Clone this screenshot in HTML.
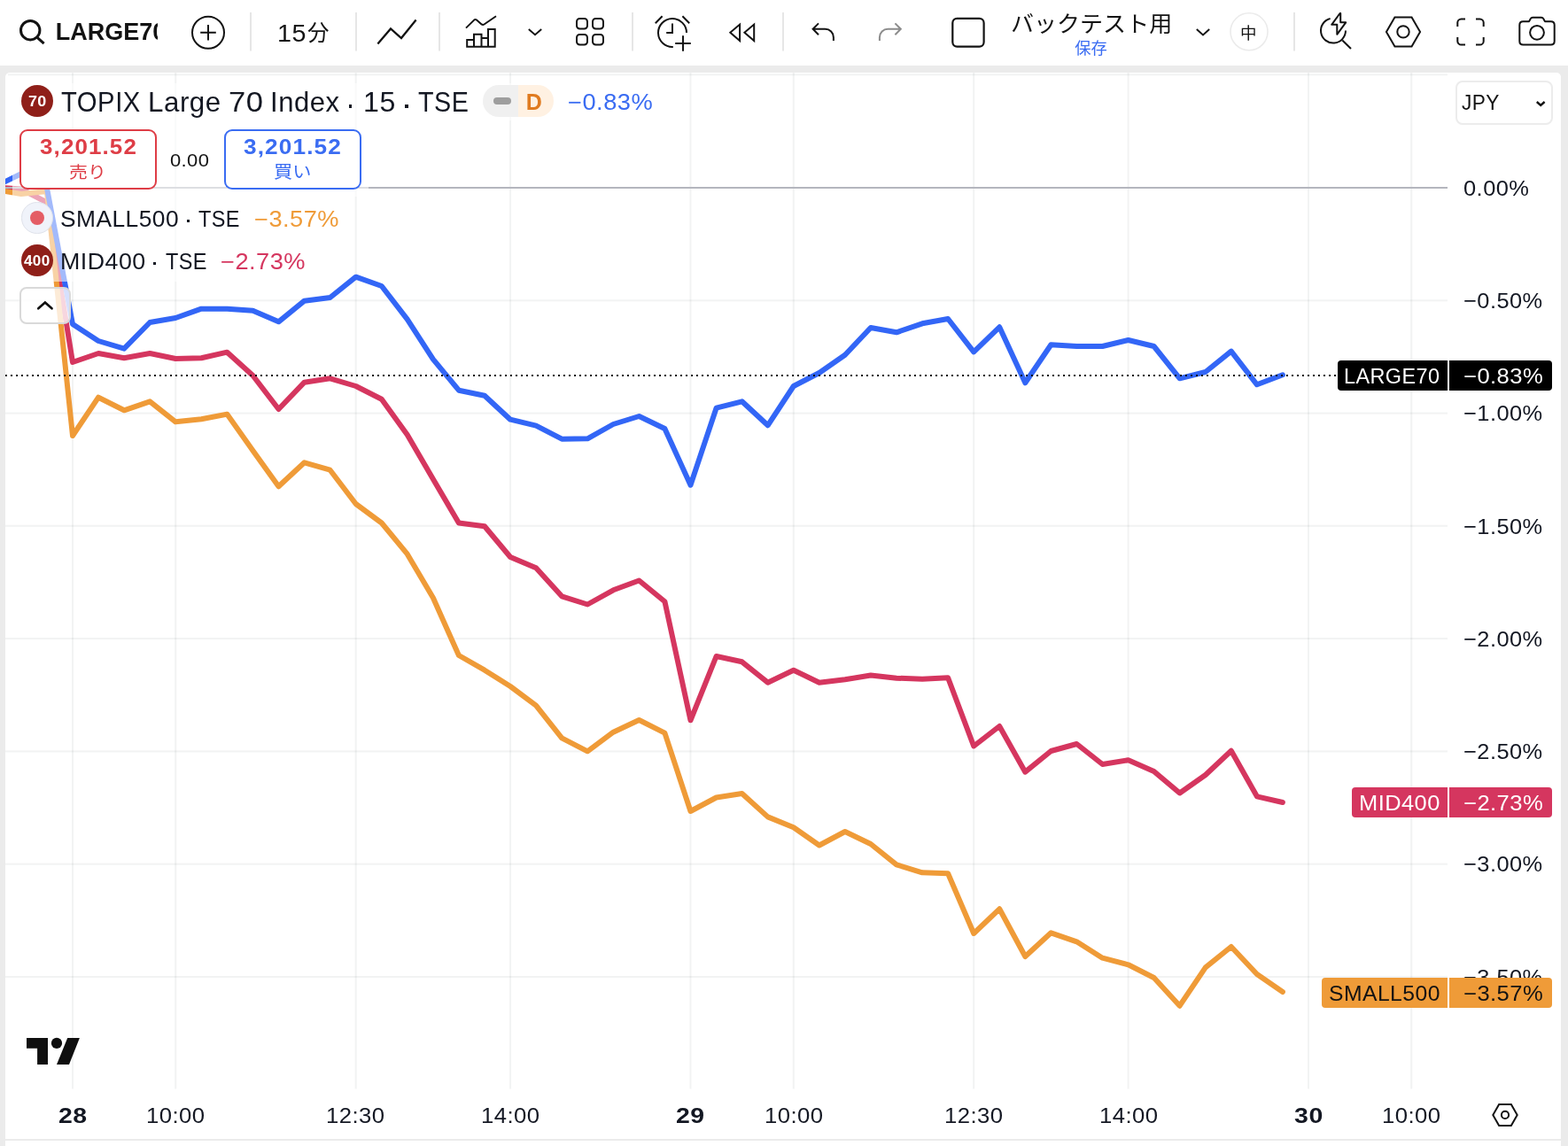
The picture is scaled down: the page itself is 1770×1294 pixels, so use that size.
<!DOCTYPE html>
<html lang="ja"><head><meta charset="utf-8"><title>TOPIX Large 70 Index chart</title>
<style>
html,body{margin:0;padding:0}
body{width:1770px;height:1294px;position:relative;overflow:hidden;background:#fff;font-family:"Liberation Sans",sans-serif}
.a{position:absolute;display:block;box-sizing:border-box}
.t{position:absolute;white-space:nowrap;display:block;transform-origin:0 0}
.j{font-family:"Liberation Sans","Noto Sans CJK JP",sans-serif}
#app{position:absolute;left:0;top:0;width:1770px;height:1294px;overflow:hidden;will-change:transform}
</style></head><body><div id="app">
<div class="a" style="left:0;top:74px;width:1770px;height:8px;background:#ebebeb"></div>
<div class="a" style="left:0;top:74px;width:6px;height:1220px;background:#ebebeb"></div>
<div class="a" style="left:1762px;top:74px;width:8px;height:1220px;background:#ebebeb"></div>
<div class="a" style="left:0;top:78px;width:1770px;height:12px;background:#ebebeb"></div>
<div class="a" style="left:6px;top:82px;width:1756px;height:1212px;background:#fff;border-radius:5px 5px 0 0"></div>
<div class="a" style="left:6px;top:1286px;width:1756px;height:2px;background:#ebebeb"></div>
<svg class="a" style="left:0;top:0" width="1770" height="1294" viewBox="0 0 1770 1294"><defs><clipPath id="cp"><rect x="6" y="82" width="1628" height="1148"/></clipPath></defs><rect x="81.0" y="82" width="2" height="1147.5" fill="rgba(42,46,57,0.06)"/><rect x="197.2" y="82" width="2" height="1147.5" fill="rgba(42,46,57,0.06)"/><rect x="400.7" y="82" width="2" height="1147.5" fill="rgba(42,46,57,0.06)"/><rect x="575.1" y="82" width="2" height="1147.5" fill="rgba(42,46,57,0.06)"/><rect x="778.5" y="82" width="2" height="1147.5" fill="rgba(42,46,57,0.06)"/><rect x="894.8" y="82" width="2" height="1147.5" fill="rgba(42,46,57,0.06)"/><rect x="1098.2" y="82" width="2" height="1147.5" fill="rgba(42,46,57,0.06)"/><rect x="1272.6" y="82" width="2" height="1147.5" fill="rgba(42,46,57,0.06)"/><rect x="1476.0" y="82" width="2" height="1147.5" fill="rgba(42,46,57,0.06)"/><rect x="1592.2" y="82" width="2" height="1147.5" fill="rgba(42,46,57,0.06)"/><rect x="9" y="83.3" width="1625" height="2" fill="rgba(42,46,57,0.06)"/><rect x="6" y="338.3" width="1628" height="2" fill="rgba(42,46,57,0.06)"/><rect x="6" y="465.6" width="1628" height="2" fill="rgba(42,46,57,0.06)"/><rect x="6" y="592.8" width="1628" height="2" fill="rgba(42,46,57,0.06)"/><rect x="6" y="720.1" width="1628" height="2" fill="rgba(42,46,57,0.06)"/><rect x="6" y="847.4" width="1628" height="2" fill="rgba(42,46,57,0.06)"/><rect x="6" y="974.7" width="1628" height="2" fill="rgba(42,46,57,0.06)"/><rect x="6" y="1102.0" width="1628" height="2" fill="rgba(42,46,57,0.06)"/><polyline clip-path="url(#cp)" fill="none" stroke="#d5365f" stroke-width="6" stroke-linejoin="round" stroke-linecap="round" points="-5.2,211.5 23.9,213.5 52.9,228.5 82.0,409.0 111.1,399.0 140.1,404.3 169.2,399.0 198.2,405.0 227.3,404.3 256.4,397.7 285.4,424.0 314.5,462.0 343.6,431.7 372.6,427.3 401.7,436.0 430.8,450.7 459.8,491.0 488.9,541.0 517.9,590.5 547.0,594.3 576.1,629.0 605.1,641.3 634.2,673.3 663.2,682.5 692.3,666.3 721.4,655.5 750.4,679.2 779.5,813.3 808.6,741.0 837.6,747.3 866.7,770.7 895.8,756.7 924.8,770.7 953.9,767.3 982.9,762.5 1012.0,765.7 1041.1,766.7 1070.1,765.3 1099.2,842.5 1128.2,820.0 1157.3,871.7 1186.4,848.0 1215.4,840.0 1244.5,863.0 1273.6,858.3 1302.6,871.0 1331.7,895.5 1360.8,875.0 1389.8,847.8 1418.9,899.3 1447.9,906.0"/><polyline clip-path="url(#cp)" fill="none" stroke="#ef9b38" stroke-width="6" stroke-linejoin="round" stroke-linecap="round" points="-5.2,214.0 23.9,219.0 52.9,216.0 82.0,492.0 111.1,448.7 140.1,463.3 169.2,453.3 198.2,476.3 227.3,473.3 256.4,467.7 285.4,508.7 314.5,549.3 343.6,522.3 372.6,530.7 401.7,569.0 430.8,590.5 459.8,625.7 488.9,675.0 517.9,740.0 547.0,756.7 576.1,775.0 605.1,796.7 634.2,833.3 663.2,848.3 692.3,826.7 721.4,813.0 750.4,827.6 779.5,916.0 808.6,900.5 837.6,896.0 866.7,922.4 895.8,934.2 924.8,954.5 953.9,939.0 982.9,953.0 1012.0,976.3 1041.1,985.3 1070.1,986.2 1099.2,1054.0 1128.2,1026.3 1157.3,1080.0 1186.4,1053.3 1215.4,1063.3 1244.5,1081.7 1273.6,1089.3 1302.6,1104.0 1331.7,1135.7 1360.8,1092.3 1389.8,1069.0 1418.9,1100.0 1447.9,1120.0"/><polyline clip-path="url(#cp)" fill="none" stroke="#3366f6" stroke-width="6" stroke-linejoin="round" stroke-linecap="round" points="-5.2,210.5 23.9,196.3 52.9,212.0 82.0,366.0 111.1,385.0 140.1,393.7 169.2,364.0 198.2,359.0 227.3,348.7 256.4,348.7 285.4,350.7 314.5,363.3 343.6,339.7 372.6,336.0 401.7,312.7 430.8,323.0 459.8,360.7 488.9,405.7 517.9,440.7 547.0,446.7 576.1,473.7 605.1,480.7 634.2,495.7 663.2,495.3 692.3,479.0 721.4,470.0 750.4,484.0 779.5,547.7 808.6,460.7 837.6,453.3 866.7,480.3 895.8,436.0 924.8,421.0 953.9,400.7 982.9,370.0 1012.0,375.3 1041.1,365.3 1070.1,360.0 1099.2,397.3 1128.2,369.3 1157.3,432.3 1186.4,389.3 1215.4,391.0 1244.5,391.0 1273.6,384.0 1302.6,391.0 1331.7,427.3 1360.8,420.0 1389.8,396.7 1418.9,434.3 1447.9,423.3"/><rect x="6" y="211" width="1628" height="2" fill="#b4b6be"/><line x1="6" y1="424" x2="1510" y2="424" stroke="#0a0a0a" stroke-width="2" stroke-dasharray="2 4"/></svg>
<div class="a" style="left:14px;top:94px;width:730px;height:42px;background:rgba(255,255,255,0.55)"></div>
<div class="a" style="left:14px;top:136px;width:402px;height:86px;background:rgba(255,255,255,0.55)"></div>
<div class="a" style="left:14px;top:222px;width:376px;height:48px;background:rgba(255,255,255,0.55)"></div>
<div class="a" style="left:14px;top:270px;width:338px;height:48px;background:rgba(255,255,255,0.55)"></div>
<div class="a" style="left:24px;top:96px;width:36px;height:36px;border-radius:50%;background:#8f1f19"></div>
<span class="t" style="left:31.77px;top:106.31px;font-size:17px;line-height:17px;font-weight:bold;color:#fff;letter-spacing:0.31px;transform:scaleX(1.0558);">70</span>
<span class="t" style="left:68.94px;top:99.14px;font-size:32.2px;line-height:32.2px;color:#131722;letter-spacing:0.58px;transform:scaleX(0.9083);">TOPIX</span>
<span class="t" style="left:167.26px;top:99.14px;font-size:32.2px;line-height:32.2px;color:#131722;letter-spacing:0.58px;transform:scaleX(0.9712);">Large</span>
<span class="t" style="left:258.27px;top:99.14px;font-size:32.2px;line-height:32.2px;color:#131722;letter-spacing:0.58px;transform:scaleX(1.0751);">70</span>
<span class="t" style="left:304.83px;top:99.14px;font-size:32.2px;line-height:32.2px;color:#131722;letter-spacing:0.58px;transform:scaleX(0.9638);">Index</span>
<span class="t" style="left:409.95px;top:99.14px;font-size:32.2px;line-height:32.2px;color:#131722;letter-spacing:0.58px;transform:scaleX(0.9978);">15</span>
<span class="t" style="left:471.80px;top:99.14px;font-size:32.2px;line-height:32.2px;color:#131722;letter-spacing:0.58px;transform:scaleX(0.8924);">TSE</span>
<div class="a" style="left:393.7px;top:117.8px;width:3.7px;height:3.8px;background:#131722"></div>
<div class="a" style="left:457.2px;top:117.8px;width:3.7px;height:3.8px;background:#131722"></div>
<div class="a" style="left:545px;top:96px;width:80px;height:35.5px;border-radius:18px;background:linear-gradient(90deg,#f0f0f0 0,#f0f0f0 50%,#fff1e2 50%,#fff1e2 100%)"></div>
<div class="a" style="left:557px;top:110px;width:20px;height:8px;border-radius:4px;background:#9e9e9e"></div>
<span class="t" style="left:593.83px;top:102.84px;font-size:25px;line-height:25px;font-weight:bold;color:#e07b20;letter-spacing:0px;">D</span>
<span class="t" style="left:641.09px;top:103.08px;font-size:25.3px;line-height:25.3px;color:#3a6cf2;letter-spacing:0.46px;transform:scaleX(1.0772);">−0.83%</span>
<div class="a" style="left:22px;top:146.2px;width:155.2px;height:67.5px;border:2px solid #de3d46;border-radius:9px;background:#fff"></div>
<span class="t" style="left:44.94px;top:154.72px;font-size:23.6px;line-height:23.6px;font-weight:bold;color:#de3d46;letter-spacing:1.0px;transform:scaleX(1.1016);">3,201.52</span>
<span class="t j" style="left:78.3px;top:186.2px;font-size:18.5px;line-height:18.5px;color:#de3d46;transform:scaleX(1.13);">売り</span>
<span class="t" style="left:192.36px;top:171.91px;font-size:19.6px;line-height:19.6px;color:#131313;letter-spacing:0.35px;transform:scaleX(1.1218);">0.00</span>
<div class="a" style="left:252.8px;top:146.2px;width:155px;height:67.5px;border:2px solid #3a6cf2;border-radius:9px;background:#fff"></div>
<span class="t" style="left:275.33px;top:154.72px;font-size:23.6px;line-height:23.6px;font-weight:bold;color:#3a6cf2;letter-spacing:1.0px;transform:scaleX(1.1115);">3,201.52</span>
<span class="t j" style="left:308.9px;top:185.3px;font-size:19.4px;line-height:19.4px;color:#3a6cf2;transform:scaleX(1.094);">買い</span>
<div class="a" style="left:24.4px;top:228.4px;width:35.2px;height:35.2px;border-radius:50%;background:#f0f3fa;border:1px solid #dfe2ea"></div>
<div class="a" style="left:33.6px;top:237.6px;width:16.8px;height:16.8px;border-radius:50%;background:#e45d65"></div>
<span class="t" style="left:68.23px;top:234.87px;font-size:25.2px;line-height:25.2px;color:#131722;letter-spacing:0.45px;transform:scaleX(1.0450);">SMALL500</span>
<span class="t" style="left:223.57px;top:234.87px;font-size:25.2px;line-height:25.2px;color:#131722;letter-spacing:0.45px;transform:scaleX(0.9320);">TSE</span>
<div class="a" style="left:210.5px;top:247.7px;width:3.3px;height:3.3px;background:#131722"></div>
<span class="t" style="left:287.08px;top:234.87px;font-size:25.2px;line-height:25.2px;color:#ef9b38;letter-spacing:0.45px;transform:scaleX(1.0815);">−3.57%</span>
<div class="a" style="left:24px;top:275.8px;width:36px;height:36px;border-radius:50%;background:#8f1f19"></div>
<span class="t" style="left:27.45px;top:286.79px;font-size:15.6px;line-height:15.6px;font-weight:bold;color:#fff;letter-spacing:0.28px;transform:scaleX(1.0964);">400</span>
<span class="t" style="left:67.84px;top:282.97px;font-size:25.2px;line-height:25.2px;color:#131722;letter-spacing:0.45px;transform:scaleX(1.0630);">MID400</span>
<span class="t" style="left:186.57px;top:282.97px;font-size:25.2px;line-height:25.2px;color:#131722;letter-spacing:0.45px;transform:scaleX(0.9320);">TSE</span>
<div class="a" style="left:172.8px;top:296px;width:3.3px;height:3.3px;background:#131722"></div>
<span class="t" style="left:249.08px;top:282.97px;font-size:25.2px;line-height:25.2px;color:#d5365f;letter-spacing:0.45px;transform:scaleX(1.0815);">−2.73%</span>
<div class="a" style="left:22.2px;top:323.9px;width:57.6px;height:42px;border:2px solid #d9d9d9;border-radius:8px;background:rgba(255,255,255,0.8)"></div>
<svg class="a" style="left:40px;top:336px" width="22" height="18" viewBox="40 336 22 18"><path d="M43.3 348.3 L50.9 341.6 L58.5 348.3" fill="none" stroke="#0f0f0f" stroke-width="2.7" stroke-linecap="round"/></svg>
<div class="a" style="left:1642.7px;top:91.2px;width:110.6px;height:50px;border:2px solid #ececec;border-radius:8px;background:#fff"></div>
<span class="t" style="left:1650.03px;top:104.31px;font-size:24.2px;line-height:24.2px;color:#131313;letter-spacing:0.44px;transform:scaleX(0.9388);">JPY</span>
<svg class="a" style="left:1730px;top:110px" width="20" height="14" viewBox="1730 110 20 14"><path d="M1734.8 115 L1739.2 119 L1743.6 115" fill="none" stroke="#131313" stroke-width="2.4"/></svg>
<span class="t" style="left:1651.80px;top:200.75px;font-size:24.4px;line-height:24.4px;color:#131722;letter-spacing:0.44px;transform:scaleX(1.0426);">0.00%</span>
<span class="t" style="left:1652.40px;top:328.03px;font-size:24.4px;line-height:24.4px;color:#131722;letter-spacing:0.44px;transform:scaleX(1.0415);">−0.50%</span>
<span class="t" style="left:1652.40px;top:455.31px;font-size:24.4px;line-height:24.4px;color:#131722;letter-spacing:0.44px;transform:scaleX(1.0415);">−1.00%</span>
<span class="t" style="left:1652.40px;top:582.59px;font-size:24.4px;line-height:24.4px;color:#131722;letter-spacing:0.44px;transform:scaleX(1.0415);">−1.50%</span>
<span class="t" style="left:1652.40px;top:709.87px;font-size:24.4px;line-height:24.4px;color:#131722;letter-spacing:0.44px;transform:scaleX(1.0415);">−2.00%</span>
<span class="t" style="left:1652.40px;top:837.15px;font-size:24.4px;line-height:24.4px;color:#131722;letter-spacing:0.44px;transform:scaleX(1.0415);">−2.50%</span>
<span class="t" style="left:1652.40px;top:964.43px;font-size:24.4px;line-height:24.4px;color:#131722;letter-spacing:0.44px;transform:scaleX(1.0415);">−3.00%</span>
<span class="t" style="left:1652.40px;top:1091.71px;font-size:24.4px;line-height:24.4px;color:#131722;letter-spacing:0.44px;transform:scaleX(1.0415);">−3.50%</span>
<div class="a" style="left:1491.6px;top:1103.7px;width:142.4000000000001px;height:34px;background:#ef9b38;border-radius:4px 0 0 4px"></div>
<div class="a" style="left:1634px;top:1103.7px;width:2px;height:34px;background:#fff"></div>
<div class="a" style="left:1636px;top:1103.7px;width:116px;height:34px;background:#ef9b38;border-radius:0 4px 4px 0"></div>
<span class="t" style="left:1499.60px;top:1110.08px;font-size:24px;line-height:24px;color:#131313;letter-spacing:0.43px;transform:scaleX(1.0297);">SMALL500</span>
<span class="t" style="left:1652.06px;top:1110.08px;font-size:24px;line-height:24px;color:#131313;letter-spacing:0.43px;transform:scaleX(1.0651);">−3.57%</span>
<div class="a" style="left:1526.4px;top:888.7px;width:107.59999999999991px;height:34px;background:#d5365f;border-radius:4px 0 0 4px"></div>
<div class="a" style="left:1634px;top:888.7px;width:2px;height:34px;background:#fff"></div>
<div class="a" style="left:1636px;top:888.7px;width:116px;height:34px;background:#d5365f;border-radius:0 4px 4px 0"></div>
<span class="t" style="left:1534.40px;top:895.08px;font-size:24px;line-height:24px;color:#fff;letter-spacing:0.43px;transform:scaleX(1.0600);">MID400</span>
<span class="t" style="left:1652.06px;top:895.08px;font-size:24px;line-height:24px;color:#fff;letter-spacing:0.43px;transform:scaleX(1.0651);">−2.73%</span>
<div class="a" style="left:1509.8px;top:406.9px;width:124.20000000000005px;height:34px;background:#000;border-radius:4px 0 0 4px"></div>
<div class="a" style="left:1634px;top:406.9px;width:2px;height:34px;background:#fff"></div>
<div class="a" style="left:1636px;top:406.9px;width:116px;height:34px;background:#000;border-radius:0 4px 4px 0"></div>
<span class="t" style="left:1517.25px;top:413.28px;font-size:24px;line-height:24px;color:#fff;letter-spacing:0.43px;transform:scaleX(0.9759);">LARGE70</span>
<span class="t" style="left:1652.06px;top:413.28px;font-size:24px;line-height:24px;color:#fff;letter-spacing:0.43px;transform:scaleX(1.0651);">−0.83%</span>
<span class="t" style="left:65.63px;top:1247.55px;font-size:24.4px;line-height:24.4px;font-weight:bold;color:#131722;letter-spacing:0.44px;transform:scaleX(1.1649);">28</span>
<span class="t" style="left:164.89px;top:1247.55px;font-size:24.4px;line-height:24.4px;color:#131722;letter-spacing:0.44px;transform:scaleX(1.0527);">10:00</span>
<span class="t" style="left:367.89px;top:1247.55px;font-size:24.4px;line-height:24.4px;color:#131722;letter-spacing:0.44px;transform:scaleX(1.0527);">12:30</span>
<span class="t" style="left:542.89px;top:1247.55px;font-size:24.4px;line-height:24.4px;color:#131722;letter-spacing:0.44px;transform:scaleX(1.0527);">14:00</span>
<span class="t" style="left:762.59px;top:1247.55px;font-size:24.4px;line-height:24.4px;font-weight:bold;color:#131722;letter-spacing:0.44px;transform:scaleX(1.1647);">29</span>
<span class="t" style="left:862.89px;top:1247.55px;font-size:24.4px;line-height:24.4px;color:#131722;letter-spacing:0.44px;transform:scaleX(1.0527);">10:00</span>
<span class="t" style="left:1065.89px;top:1247.55px;font-size:24.4px;line-height:24.4px;color:#131722;letter-spacing:0.44px;transform:scaleX(1.0527);">12:30</span>
<span class="t" style="left:1240.89px;top:1247.55px;font-size:24.4px;line-height:24.4px;color:#131722;letter-spacing:0.44px;transform:scaleX(1.0527);">14:00</span>
<span class="t" style="left:1461.36px;top:1247.55px;font-size:24.4px;line-height:24.4px;font-weight:bold;color:#131722;letter-spacing:0.44px;transform:scaleX(1.1702);">30</span>
<span class="t" style="left:1559.89px;top:1247.55px;font-size:24.4px;line-height:24.4px;color:#131722;letter-spacing:0.44px;transform:scaleX(1.0527);">10:00</span>
<svg class="a" style="left:1680px;top:1240px" width="40" height="38" viewBox="1680 1240 40 38"><path d="M1685.3 1258.9 L1692.15 1246.9 L1705.85 1246.9 L1712.7 1258.9 L1705.85 1270.9 L1692.15 1270.9 Z" fill="none" stroke="#131313" stroke-width="2"/><circle cx="1699" cy="1258.9" r="4.1" fill="none" stroke="#131313" stroke-width="2"/></svg>
<svg class="a" style="left:28px;top:1170px" width="66" height="34" viewBox="28 1170 66 34"><path fill="#0f0f0f" d="M30 1172 H54 V1202 H42.1 V1183.8 H30 Z"/><circle cx="64" cy="1177.9" r="6.1" fill="#0f0f0f"/><path fill="#0f0f0f" d="M76.2 1172 H89.9 L78 1202 H64 Z"/></svg>
<svg class="a" style="left:0;top:0" width="1770" height="74" viewBox="0 0 1770 74" fill="none" stroke="#131313" stroke-width="2" stroke-linecap="butt" stroke-linejoin="miter"><rect x="282" y="14" width="2" height="43.5" fill="#e6e6e6" stroke="none"/><rect x="401" y="14" width="2" height="43.5" fill="#e6e6e6" stroke="none"/><rect x="495" y="14" width="2" height="43.5" fill="#e6e6e6" stroke="none"/><rect x="713" y="14" width="2" height="43.5" fill="#e6e6e6" stroke="none"/><rect x="883" y="14" width="2" height="43.5" fill="#e6e6e6" stroke="none"/><rect x="1460" y="14" width="2" height="43.5" fill="#e6e6e6" stroke="none"/><circle cx="34.2" cy="34.2" r="10.7" stroke-width="3"/><path d="M42 42.3 L49.6 49.2" stroke-width="3"/><circle cx="235" cy="36.8" r="18"/><path d="M226.2 36.8 H243.8 M235 28 V45.6"/><path d="M426.4 49.6 L441 32.4 L453 43 L469.6 22.6" stroke-width="2.3"/><path d="M526 31.6 L535.2 22.6 Q536.6 21.3 538 22.5 L543.6 27.4 Q545 28.5 546.5 27.5 L560 18.2" /><path d="M527.2 52.8 V45 H535 V38.8 H543.5 V43 H551 V33 H558.7 V52.8 Z M535 45 V52.8 M543.5 43 V52.8 M551 43 V52.8"/><path d="M596.8 33 L604 39.3 L611.2 33" stroke-width="1.9"/><rect x="651" y="21" width="12" height="11.5" rx="3.4"/><rect x="651" y="39" width="12" height="11.5" rx="3.4"/><rect x="669" y="21" width="12" height="11.5" rx="3.4"/><rect x="669" y="39" width="12" height="11.5" rx="3.4"/><path d="M775 37 A16 16 0 1 0 759.8 53"/><path d="M759 26.5 V37 H752.2"/><path d="M739.8 26.2 L747.6 18.3 M770.4 18.3 L778.2 26.2"/><path d="M762.2 48.9 H779.8 M771 40.2 V57.7"/><path d="M835.1 27.6 V46 L824.3 36.8 Z M851.2 27.6 V46 L840.4 36.8 Z"/><path d="M924 26.4 L917.6 32.8 L924 39.2 M917.6 32.8 H931.5 A9.4 9.4 0 0 1 940.9 42.2 V46"/><path stroke="#8c8c8c" d="M1010.4 26.4 L1016.8 32.8 L1010.4 39.2 M1016.8 32.8 H1002.3 A9.4 9.4 0 0 0 992.9 42.2 V46"/><rect x="1075.3" y="20.9" width="35.3" height="31.7" rx="5" stroke-width="2.2"/><path d="M1350.8 33 L1358 39.5 L1365.2 33" stroke-width="1.9"/><circle cx="1410" cy="35.8" r="21" stroke="#ebebeb" stroke-width="1.6"/><path d="M1501.6 21 A14 14 0 1 0 1519 34.6"/><path d="M1515.3 45.5 L1525 55"/><path fill="#fff" stroke-linejoin="round" d="M1512.6 15 L1503.2 27.8 H1509.3 V38.8 L1519.2 25.3 H1513.2 V15 Z"/><path d="M1564.95 35.9 L1574.45 19.4 H1593.55 L1603.05 35.9 L1593.55 52.4 H1574.45 Z"/><circle cx="1584" cy="35.9" r="6.7"/><path d="M1654 21.4 H1649.5 A4.2 4.2 0 0 0 1645.3 25.6 V30 M1666 21.4 H1670.5 A4.2 4.2 0 0 1 1674.7 25.6 V30 M1645.3 42 V46.4 A4.2 4.2 0 0 0 1649.5 50.6 H1654 M1674.7 42 V46.4 A4.2 4.2 0 0 1 1670.5 50.6 H1666"/><path stroke-linejoin="round" d="M1719.3 24.2 H1726 L1728 20.8 Q1728.6 19.7 1730 19.7 H1740 Q1741.4 19.7 1742 20.8 L1744 24.2 H1750.7 Q1754.7 24.2 1754.7 28.2 V46.6 Q1754.7 50.6 1750.7 50.6 H1719.3 Q1715.3 50.6 1715.3 46.6 V28.2 Q1715.3 24.2 1719.3 24.2 Z"/><circle cx="1735" cy="36.8" r="7.9"/></svg>
<div class="a" style="left:60px;top:10px;width:118px;height:54px;overflow:hidden">
<span class="t" style="left:2.70px;top:13.14px;font-size:27px;line-height:27px;font-weight:bold;color:#131313;letter-spacing:0px">LARGE70</span></div>
<span class="t" style="left:313.25px;top:22.83px;font-size:28.2px;line-height:28.2px;color:#131313;letter-spacing:0.51px;transform:scaleX(1.0181);">15</span>
<span class="t j" style="left:347.2px;top:25.2px;font-size:25px;line-height:25px;color:#131313;transform:scaleX(0.98);">分</span>
<span class="t j" style="left:1140.5px;top:15px;font-size:25.4px;line-height:25.4px;color:#131313;transform:scaleX(1.025);">バックテスト用</span>
<span class="t j" style="left:1213.3px;top:45.7px;font-size:18.3px;line-height:18.3px;color:#3a6cf2;">保存</span>
<span class="t j" style="left:1400.2px;top:28.5px;font-size:18.2px;line-height:18.2px;color:#131313;transform:scaleX(1.02);">中</span>
</div></body></html>
